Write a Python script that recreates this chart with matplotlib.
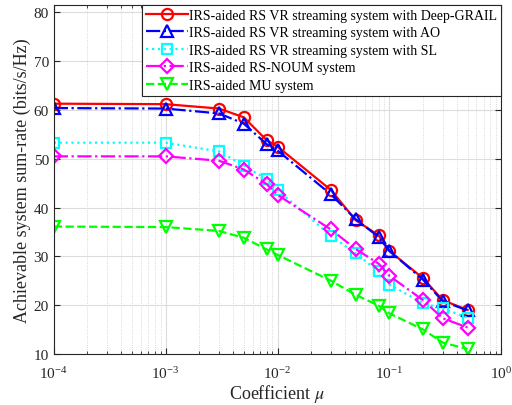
import matplotlib
matplotlib.use('Agg')
import matplotlib.pyplot as plt
from matplotlib.ticker import LogLocator, FixedLocator

plt.rcParams['font.family'] = 'serif'
plt.rcParams['font.serif'] = ['Liberation Serif']
plt.rcParams['mathtext.fontset'] = 'stix'

# coefficient mu
mu = [1e-4, 1e-3, 3e-3, 5e-3, 8e-3, 1e-2, 3e-2, 5e-2, 8e-2, 1e-1, 2e-1, 3e-1, 5e-1]

deep_grail = [61.3, 61.2, 60.3, 58.5, 53.8, 52.5, 43.6, 37.4, 34.3, 31.1, 25.5, 21.0, 19.0]
ao = [60.4, 60.3, 59.3, 57.2, 53.0, 51.7, 42.7, 37.6, 34.0, 31.1, 25.2, 20.8, 18.9]
sl = [53.3, 53.3, 51.5, 48.6, 45.8, 43.6, 34.2, 30.6, 26.9, 24.2, 20.4, 19.3, 17.4]
noum = [50.5, 50.5, 49.6, 47.8, 44.8, 42.6, 35.5, 31.5, 28.5, 26.0, 21.0, 17.3, 15.4]
mu_sys = [36.1, 36.0, 35.2, 33.8, 31.4, 30.3, 25.0, 22.1, 19.9, 18.3, 15.0, 12.3, 11.0]

labels = ['IRS-aided RS VR streaming system with Deep-GRAIL',
          'IRS-aided RS VR streaming system with AO',
          'IRS-aided RS VR streaming system with SL',
          'IRS-aided RS-NOUM system',
          'IRS-aided MU system']

fig = plt.figure(figsize=(5.12, 4.06), dpi=100)
ax = fig.add_axes([0.105, 0.126, 0.874, 0.86])

ax.plot(mu, deep_grail, '-o', color='#FF0000', lw=1.6, ms=8, mfc='none', mew=1.6, label=labels[0])
ax.plot(mu, ao, '-.^', color='#0000FF', lw=1.6, ms=9, mfc='none', mew=1.6, label=labels[1])
ax.plot(mu, sl, ':s', color='#00FFFF', lw=1.6, ms=7, mfc='none', mew=1.6, label=labels[2])
ax.plot(mu, noum, '-.D', color='#FF00FF', lw=1.6, ms=7, mfc='none', mew=1.6, label=labels[3])
ax.plot(mu, mu_sys, '--v', color='#00FF00', lw=1.6, ms=9, mfc='none', mew=1.6, label=labels[4])

ax.set_xscale('log')
ax.set_xlim(1e-4, 1)
ax.set_ylim(10, 81.6)
ax.yaxis.set_major_locator(FixedLocator([10, 20, 30, 40, 50, 60, 70, 80]))
ax.xaxis.set_major_locator(LogLocator(base=10, numticks=10))
ax.xaxis.set_minor_locator(LogLocator(base=10, subs=range(2, 10), numticks=20))

ax.grid(True, which='major', color='#DCDCDC', lw=0.8, ls='-')
ax.grid(True, which='minor', axis='x', color='#CCCCCC', lw=0.6, ls=':')
ax.set_axisbelow(True)

ax.tick_params(which='both', direction='in', top=True, right=True, labelsize=11, colors='#262626')
ax.tick_params(which='major', length=4)
ax.tick_params(which='minor', length=2)
ax.tick_params(axis='x', which='major', pad=8)
for s in ax.spines.values():
    s.set_color('#262626')
    s.set_linewidth(0.8)

ax.set_xlabel(r'Coefficient $\mu$', fontsize=13, color='#262626', labelpad=1)
ax.set_ylabel('Achievable system sum-rate (bits/s/Hz)', fontsize=13, color='#262626', labelpad=2)

leg = ax.legend(loc='upper right', fontsize=10, frameon=True, fancybox=False,
                edgecolor='#262626', framealpha=1, borderaxespad=0,
                handlelength=3.0, handletextpad=0.1, labelspacing=0.32, borderpad=0.3)
leg.get_frame().set_linewidth(0.8)

fig.savefig('out.png', dpi=100)
